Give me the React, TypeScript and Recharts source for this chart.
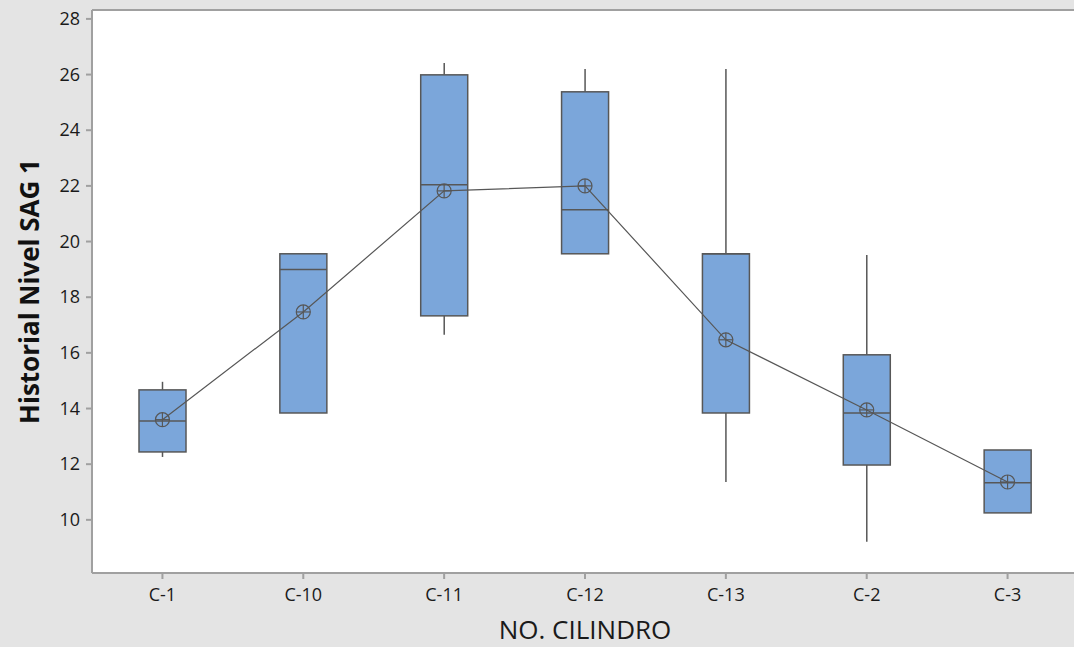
import { ComposedChart, Bar, Line, XAxis, YAxis, CartesianGrid } from 'recharts';

const cylinders = ['C-1', 'C-10', 'C-11', 'C-12', 'C-13', 'C-2', 'C-3'];
const whiskerLow = [12.26, 13.84, 16.65, 19.56, 11.36, 9.21, 10.25];
const q1 = [12.44, 13.84, 17.33, 19.56, 13.84, 11.97, 10.25];
const medians = [13.55, 19.0, 22.04, 21.14, 19.56, 13.84, 11.33];
const q3 = [14.67, 19.56, 25.99, 25.38, 19.56, 15.93, 12.51];
const whiskerHigh = [14.96, 19.56, 26.42, 26.2, 26.2, 19.52, 12.51];
const means = [13.6, 17.47, 21.82, 22.0, 16.47, 13.95, 11.36];
const yTicks = [10, 12, 14, 16, 18, 20, 22, 24, 26, 28];

const data = cylinders.map((name, i) => ({
  name,
  low: whiskerLow[i],
  q1: q1[i],
  median: medians[i],
  q3: q3[i],
  high: whiskerHigh[i],
  mean: means[i],
}));

const EDGE = '#575757';
const FILL = '#7BA6DA';
const FONT = '"Open Sans", "Noto Sans", sans-serif';

function BoxShape(props: any) {
  const { x, y, width, height, payload } = props;
  const { low, high } = payload;
  const toPx = (v: number) => y + ((high - v) / (high - low)) * height;
  const cx = x + width / 2;
  return (
    <g>
      <line x1={cx} x2={cx} y1={toPx(high)} y2={toPx(payload.q3)} stroke={EDGE} strokeWidth={1.5} />
      <line x1={cx} x2={cx} y1={toPx(payload.q1)} y2={toPx(low)} stroke={EDGE} strokeWidth={1.5} />
      <rect
        x={x}
        y={toPx(payload.q3)}
        width={width}
        height={toPx(payload.q1) - toPx(payload.q3)}
        fill={FILL}
        stroke={EDGE}
        strokeWidth={1.5}
      />
      <line x1={x} x2={x + width} y1={toPx(payload.median)} y2={toPx(payload.median)} stroke={EDGE} strokeWidth={1.5} />
    </g>
  );
}

function MeanDot(props: any) {
  const { cx, cy } = props;
  return (
    <g>
      <circle cx={cx} cy={cy} r={7} fill="none" stroke={EDGE} strokeWidth={1.2} />
      <line x1={cx - 7} x2={cx + 7} y1={cy} y2={cy} stroke={EDGE} strokeWidth={1.2} />
      <line x1={cx} x2={cx} y1={cy - 7} y2={cy + 7} stroke={EDGE} strokeWidth={1.2} />
    </g>
  );
}

function XTick(props: any) {
  const { x, y, payload } = props;
  return (
    <text x={x} y={y + 20} textAnchor="middle" fill="#1a1a1a" fontSize={18} fontFamily={FONT}>
      {payload.value}
    </text>
  );
}

function YTick(props: any) {
  const { x, y, payload } = props;
  return (
    <text x={x - 4} y={y + 6} textAnchor="end" fill="#1a1a1a" fontSize={18} fontFamily={FONT}>
      {payload.value}
    </text>
  );
}

export default function App() {
  return (
    <div style={{ position: 'fixed', left: 0, top: 0, width: 1074, height: 647, background: '#e4e4e4' }}>
      <ComposedChart width={1074} height={647} data={data} margin={{ top: 0, right: -4, bottom: 34, left: 52 }}>
        <CartesianGrid fill="#ffffff" horizontal={false} vertical={false} />
        <XAxis
          dataKey="name"
          tick={<XTick />}
          tickLine={{ stroke: '#a0a0a0', strokeWidth: 2 }}
          tickSize={6}
          axisLine={{ stroke: '#a0a0a0', strokeWidth: 2 }}
          height={40}
          label={{
            value: 'NO. CILINDRO',
            position: 'insideBottom',
            offset: -26,
            style: { fill: '#1a1a1a', fontSize: 26, fontFamily: FONT },
          }}
        />
        <XAxis xAxisId="top" orientation="top" dataKey="name" tick={false} tickLine={false} height={10} axisLine={{ stroke: '#a0a0a0', strokeWidth: 2 }} />
        <YAxis
          domain={[8.09, 28.32]}
          ticks={yTicks}
          allowDataOverflow
          tick={<YTick />}
          tickLine={{ stroke: '#a0a0a0', strokeWidth: 2 }}
          tickSize={6}
          axisLine={{ stroke: '#a0a0a0', strokeWidth: 2 }}
          width={40}
          label={{
            value: 'Historial Nivel SAG 1',
            angle: -90,
            position: 'insideLeft',
            offset: -22,
            style: {
              textAnchor: 'middle',
              fill: '#111',
              fontSize: 26,
              fontWeight: 'bold',
              fontFamily: FONT,
            },
          }}
        />
        <Bar dataKey={(d: any) => [d.low, d.high]} barSize={47} shape={<BoxShape />} isAnimationActive={false} />
        <Line
          dataKey="mean"
          stroke={EDGE}
          strokeWidth={1.2}
          dot={<MeanDot />}
          activeDot={false}
          isAnimationActive={false}
        />
      </ComposedChart>
    </div>
  );
}
